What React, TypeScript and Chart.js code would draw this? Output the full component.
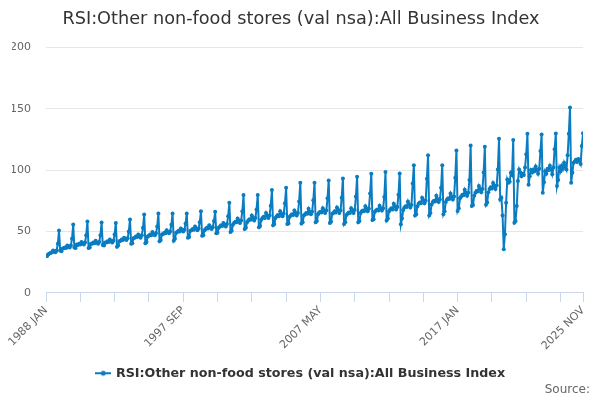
import React, { useEffect, useRef } from "react";
import { Chart, registerables } from "chart.js";

Chart.register(...registerables);

const TITLE = "RSI:Other non-food stores (val nsa):All Business Index";
const SERIES_NAME = "RSI:Other non-food stores (val nsa):All Business Index";
const SOURCE = "Source:";

const MONTHS = ["JAN", "FEB", "MAR", "APR", "MAY", "JUN", "JUL", "AUG", "SEP", "OCT", "NOV", "DEC"];
const START_YEAR = 1988;

const y1988 = [30.5, 30.0, 31.5, 32.0, 32.5, 33.0, 34.5, 33.5, 33.0, 34.5, 40.0, 50.8];
const y1989 = [34.5, 34.0, 36.0, 36.5, 37.0, 36.5, 38.5, 37.5, 37.0, 38.5, 44.0, 55.7];
const y1990 = [37.0, 36.5, 39.5, 39.0, 40.0, 39.5, 41.5, 40.5, 39.5, 41.0, 47.0, 58.2];
const y1991 = [36.5, 37.0, 40.0, 40.0, 41.0, 40.5, 42.5, 41.0, 40.0, 41.5, 47.0, 57.3];
const y1992 = [39.0, 38.5, 41.0, 41.0, 42.0, 41.5, 43.5, 42.0, 41.0, 42.5, 47.5, 57.0];
const y1993 = [37.5, 38.5, 42.0, 42.5, 43.5, 43.0, 45.0, 44.0, 43.0, 44.5, 50.0, 59.8];
const y1994 = [40.0, 40.5, 44.5, 45.0, 46.0, 45.5, 47.5, 46.0, 45.0, 47.0, 53.0, 63.9];
const y1995 = [40.5, 41.5, 46.0, 46.5, 47.5, 47.0, 49.5, 48.0, 47.0, 48.5, 54.0, 64.7];
const y1996 = [42.0, 43.0, 47.5, 48.0, 49.0, 48.5, 51.0, 49.5, 48.5, 50.0, 55.5, 64.7];
const y1997 = [42.5, 44.0, 49.0, 49.5, 50.5, 50.0, 52.5, 51.0, 50.0, 51.5, 56.5, 64.7];
const y1998 = [45.0, 45.5, 50.5, 51.0, 52.0, 51.5, 54.0, 52.5, 51.0, 52.5, 57.5, 66.5];
const y1999 = [46.5, 47.0, 51.0, 52.0, 53.0, 52.5, 55.0, 53.5, 52.0, 53.5, 58.5, 66.0];
const y2000 = [48.5, 49.0, 53.0, 54.0, 55.0, 54.5, 57.0, 55.5, 54.0, 56.0, 62.5, 73.4];
const y2001 = [49.5, 50.5, 55.5, 57.0, 58.0, 57.5, 60.5, 59.0, 57.0, 59.0, 66.5, 79.7];
const y2002 = [52.0, 53.0, 57.5, 59.0, 60.0, 59.5, 63.0, 61.0, 59.0, 61.0, 68.0, 79.7];
const y2003 = [53.5, 54.5, 59.5, 61.0, 62.0, 61.0, 65.0, 63.0, 61.0, 63.0, 71.0, 83.7];
const y2004 = [55.0, 56.0, 61.0, 62.5, 63.5, 62.5, 66.5, 64.5, 62.5, 64.5, 73.0, 85.6];
const y2005 = [56.0, 56.5, 62.0, 63.0, 64.0, 63.5, 67.0, 65.0, 63.0, 65.0, 74.5, 89.7];
const y2006 = [56.5, 57.5, 63.0, 64.0, 65.0, 64.5, 68.5, 66.0, 64.0, 66.0, 75.5, 89.7];
const y2007 = [57.5, 58.5, 64.0, 65.5, 66.0, 65.5, 69.0, 67.0, 65.0, 67.0, 77.0, 91.6];
const y2008 = [57.0, 58.0, 64.5, 65.0, 66.5, 65.5, 69.5, 67.5, 65.0, 67.0, 77.5, 93.2];
const y2009 = [56.0, 57.5, 63.5, 64.5, 65.5, 65.0, 69.0, 67.0, 65.0, 67.5, 78.5, 94.6];
const y2010 = [57.5, 58.5, 65.0, 66.5, 67.0, 66.5, 70.5, 68.5, 66.5, 68.5, 81.0, 97.0];
const y2011 = [59.3, 60.0, 66.0, 67.0, 68.0, 67.0, 71.0, 69.0, 67.0, 69.0, 78.0, 98.4];
const y2012 = [59.0, 60.5, 66.5, 68.0, 69.0, 68.0, 72.5, 70.5, 68.0, 70.0, 80.0, 97.3];
const y2013 = [55.8, 60.5, 67.5, 69.5, 70.5, 70.0, 74.5, 72.0, 69.5, 71.5, 89.0, 104.0];
const y2014 = [63.0, 64.0, 70.5, 72.5, 73.5, 73.0, 77.5, 75.5, 73.0, 75.0, 93.0, 112.0];
const y2015 = [63.0, 65.0, 72.0, 74.0, 75.0, 74.5, 79.0, 76.5, 74.0, 76.0, 85.6, 104.0];
const y2016 = [64.0, 66.5, 74.0, 76.0, 77.0, 76.5, 81.0, 78.5, 76.0, 78.5, 93.8, 116.0];
const y2017 = [66.7, 69.0, 77.0, 78.5, 80.0, 79.5, 84.0, 81.5, 79.0, 81.5, 92.0, 120.0];
const y2018 = [70.7, 71.5, 79.0, 81.5, 83.0, 82.5, 87.0, 84.5, 82.0, 84.5, 98.0, 119.0];
const y2019 = [71.8, 73.5, 82.0, 84.5, 86.0, 85.0, 89.5, 87.0, 84.5, 87.5, 100.5, 125.5];
const y2020 = [76.0, 77.5, 63.0, 35.5, 47.7, 73.4, 92.4, 89.7, 90.5, 97.8, 96.0, 124.4];
const y2021 = [57.2, 58.5, 70.7, 91.0, 100.5, 98.0, 95.0, 97.0, 96.0, 102.0, 112.8, 129.5];
const y2022 = [88.0, 95.0, 100.0, 98.0, 100.5, 99.0, 103.0, 100.0, 97.0, 101.0, 115.5, 129.0];
const y2023 = [81.5, 90.0, 99.0, 97.0, 101.0, 100.0, 103.5, 100.5, 96.5, 102.0, 117.0, 129.8];
const y2024 = [87.0, 92.0, 102.0, 99.0, 103.5, 101.0, 106.0, 103.0, 100.5, 112.0, 129.5, 151.0];
const y2025 = [89.7, 97.8, 106.0, 107.0, 108.5, 106.5, 109.0, 107.5, 105.0, 119.5, 130.0];

const YEARS = [
  y1988, y1989, y1990, y1991, y1992, y1993, y1994, y1995, y1996, y1997,
  y1998, y1999, y2000, y2001, y2002, y2003, y2004, y2005, y2006, y2007,
  y2008, y2009, y2010, y2011, y2012, y2013, y2014, y2015, y2016, y2017,
  y2018, y2019, y2020, y2021, y2022, y2023, y2024, y2025,
];

const Y_TICKS = [0, 50, 100, 150, 200];
const X_TICK_STEP = 29;
const X_LABEL_STEP = 116;

const FONT = "'DejaVu Sans', 'Noto Sans', sans-serif";
const COLOR = "#0a7cc1";

export default function App() {
  const ref = useRef<HTMLCanvasElement | null>(null);

  useEffect(() => {
    document.body.style.margin = "0";
    const canvas = ref.current;
    if (!canvas) return;

    const labels: string[] = [];
    const values: { x: number; y: number }[] = [];
    YEARS.forEach((arr, yi) => {
      arr.forEach((v, mi) => {
        labels.push(`${START_YEAR + yi} ${MONTHS[mi]}`);
        values.push({ x: labels.length - 1, y: v });
      });
    });
    const last = labels.length - 1;

    const sym = document.createElement("canvas");
    sym.width = 16;
    sym.height = 8;
    const sc = sym.getContext("2d");
    if (sc) {
      sc.strokeStyle = COLOR;
      sc.lineWidth = 2;
      sc.beginPath();
      sc.moveTo(0, 4);
      sc.lineTo(16, 4);
      sc.stroke();
      sc.fillStyle = COLOR;
      sc.beginPath();
      sc.arc(8, 4, 2.5, 0, Math.PI * 2);
      sc.fill();
    }

    const sourcePlugin = {
      id: "sourceText",
      afterDraw(c: any) {
        const ctx = c.ctx;
        ctx.save();
        ctx.font = `12px ${FONT}`;
        ctx.fillStyle = "#666666";
        ctx.textAlign = "right";
        ctx.textBaseline = "middle";
        ctx.fillText(SOURCE, c.width - 10, 390);
        ctx.restore();
      },
    };

    const chart = new Chart(canvas, {
      type: "line",
      data: {
        datasets: [
          {
            label: SERIES_NAME,
            data: values,
            borderColor: COLOR,
            backgroundColor: COLOR,
            borderWidth: 2,
            pointRadius: 2,
            pointStyle: "circle",
            pointBackgroundColor: COLOR,
            pointBorderWidth: 0,
            tension: 0,
          },
        ],
      },
      plugins: [sourcePlugin],
      options: {
        animation: false,
        responsive: true,
        maintainAspectRatio: false,
        layout: { padding: { left: 12, right: 10, top: 4, bottom: 10.4 } },
        plugins: {
          tooltip: { enabled: false },
          title: {
            display: true,
            text: TITLE,
            color: "#333333",
            font: { family: FONT, size: 17.7, weight: "normal" },
            padding: { top: 5, bottom: 17 },
          },
          legend: {
            position: "bottom",
            labels: {
              color: "#333333",
              font: { family: FONT, size: 12.7, weight: "bold" },
              usePointStyle: true,
              generateLabels: () => [
                {
                  text: SERIES_NAME,
                  pointStyle: sym as any,
                  fontColor: "#333333",
                  strokeStyle: COLOR,
                  fillStyle: COLOR,
                  lineWidth: 0,
                  hidden: false,
                  datasetIndex: 0,
                } as any,
              ],
              padding: 3,
            },
          },
        },
        scales: {
          x: {
            type: "linear",
            min: 0,
            max: last,
            afterBuildTicks: (scale: any) => {
              const t: { value: number }[] = [];
              for (let i = 0; i <= last; i += X_TICK_STEP) t.push({ value: i });
              if (t[t.length - 1].value !== last) t.push({ value: last });
              scale.ticks = t;
            },
            afterFit: (scale: any) => {
              scale.paddingLeft = 0;
              scale.paddingRight = 17;
              scale.height = 71;
            },
            ticks: {
              autoSkip: false,
              minRotation: 45,
              maxRotation: 45,
              color: "#666666",
              font: { family: FONT, size: 11 },
              padding: 2,
              callback: (v: any) => {
                const n = Number(v);
                if (n === last || n % X_LABEL_STEP === 0) return labels[n];
                return "";
              },
            },
            grid: {
              drawOnChartArea: false,
              drawTicks: true,
              tickLength: 9,
              color: "#ccd6eb",
            },
            border: { display: true, color: "#ccd6eb", width: 1 },
          },
          y: {
            min: 0,
            max: 200,
            afterBuildTicks: (scale: any) => {
              scale.ticks = Y_TICKS.map((v) => ({ value: v }));
            },
            afterFit: (scale: any) => {
              scale.width = 34;
            },
            ticks: {
              color: "#666666",
              font: { family: FONT, size: 11 },
              padding: 15,
            },
            grid: { color: "#e6e6e6", drawTicks: false },
            border: { display: false },
          },
        },
      },
    });

    return () => chart.destroy();
  }, []);

  return (
    <div style={{ width: 600, height: 400, position: "relative" }}>
      <canvas ref={ref} />
    </div>
  );
}
